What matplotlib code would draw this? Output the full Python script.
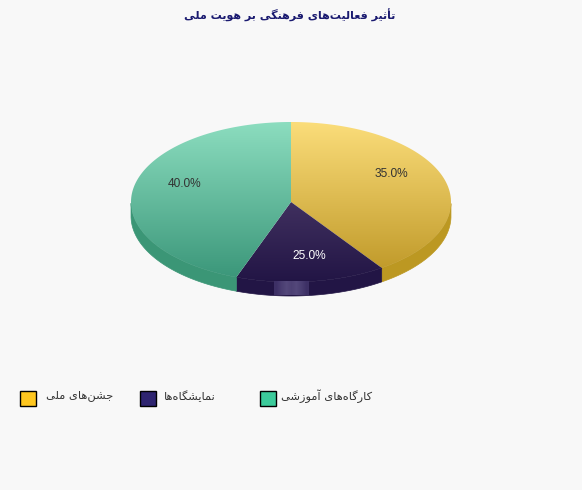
import numpy as np
import matplotlib
matplotlib.use("Agg")
import matplotlib.pyplot as plt
from matplotlib.colors import LinearSegmentedColormap
from matplotlib.patches import Polygon, Rectangle

# data
title = "تأثیر فعالیت‌های فرهنگی بر هویت ملی"
categories = ["جشن‌های ملی", "نمایشگاه‌ها", "کارگاه‌های آموزشی"]
values = [35.0, 25.0, 40.0]

# styles
legend_colors = ["#FFC71F", "#2E2470", "#3CCB9B"]
top_grads = [("#FBDD7A", "#BC9524"), ("#40305F", "#221545"), ("#8CDDBF", "#399578")]
side_colors = ["#BC9822", "#221545", "#3B9676"]
label_colors = ["#333333", "#FFFFFF", "#333333"]
label_pos = [(391, 174), (309, 256), (185, 184)]
legend_x = [(20, 113), (140, 216), (260, 372)]

cx, cy = 291, 202
rx, ry = 160, 80
depth = 14

# forms: isolated, final, initial, medial
FORMS = {
    "ا": (0xFE8D, 0xFE8E), "آ": (0xFE81, 0xFE82), "أ": (0xFE83, 0xFE84),
    "ر": (0xFEAD, 0xFEAE), "ز": (0xFEAF, 0xFEB0), "و": (0xFEED, 0xFEEE),
    "ب": (0xFE8F, 0xFE90, 0xFE91, 0xFE92), "ت": (0xFE95, 0xFE96, 0xFE97, 0xFE98),
    "ث": (0xFE99, 0xFE9A, 0xFE9B, 0xFE9C), "ج": (0xFE9D, 0xFE9E, 0xFE9F, 0xFEA0),
    "ش": (0xFEB5, 0xFEB6, 0xFEB7, 0xFEB8), "ع": (0xFEC9, 0xFECA, 0xFECB, 0xFECC),
    "ف": (0xFED1, 0xFED2, 0xFED3, 0xFED4), "ک": (0xFB8E, 0xFB8F, 0xFB90, 0xFB91),
    "گ": (0xFB92, 0xFB93, 0xFB94, 0xFB95), "ل": (0xFEDD, 0xFEDE, 0xFEDF, 0xFEE0),
    "م": (0xFEE1, 0xFEE2, 0xFEE3, 0xFEE4), "ن": (0xFEE5, 0xFEE6, 0xFEE7, 0xFEE8),
    "ه": (0xFEE9, 0xFEEA, 0xFEEB, 0xFEEC), "ی": (0xFBFC, 0xFBFD, 0xFBFE, 0xFBFF),
}


# matplotlib has no arabic shaping, so pick the joined glyphs and reverse
def shape(s):
    out = []
    for i, c in enumerate(s):
        if c not in FORMS:
            if c != "\u200c":
                out.append(c)
            continue
        f = FORMS[c]
        prev = s[i - 1] if i > 0 else ""
        nxt = s[i + 1] if i + 1 < len(s) else ""
        join_prev = prev in FORMS and len(FORMS[prev]) == 4
        join_next = nxt in FORMS and len(f) == 4
        if join_prev and join_next:
            out.append(chr(f[3]))
        elif join_next:
            out.append(chr(f[2]))
        elif join_prev:
            out.append(chr(f[1]))
        else:
            out.append(chr(f[0]))
    return "".join(out[::-1])


# point on the rim for a real screen angle, clockwise from the top
def rim(a):
    dx, dy = np.sin(a), -np.cos(a)
    t = 1 / np.sqrt((dx / rx) ** 2 + (dy / ry) ** 2)
    return cx + t * dx, cy + t * dy


fig = plt.figure(figsize=(5.82, 4.9), dpi=100, facecolor="#F8F8F8")
ax = fig.add_axes([0, 0, 1, 1])
ax.set_xlim(0, 582)
ax.set_ylim(490, 0)
ax.axis("off")

edges = np.deg2rad(np.cumsum([0] + values) * 3.6)

for i in range(len(values)):
    ang = np.linspace(edges[i], edges[i + 1], 200)
    x, y = rim(ang)

    # side wall, only the front part of the rim
    front = (ang > np.pi / 2) & (ang < 3 * np.pi / 2)
    if front.any():
        sx, sy = x[front], y[front]
        wall = np.column_stack([np.r_[sx, sx[::-1]], np.r_[sy, sy[::-1] + depth]])
        ax.add_patch(Polygon(wall, closed=True, fc=side_colors[i], ec=side_colors[i], lw=0.5, zorder=1))

for i in range(len(values)):
    ang = np.linspace(edges[i], edges[i + 1], 200)
    x, y = rim(ang)
    pts = np.column_stack([np.r_[cx, x], np.r_[cy, y]])
    cmap = LinearSegmentedColormap.from_list("s%d" % i, top_grads[i])
    y0 = cy if i == 1 else cy - ry
    grad = np.linspace(0, 1, 256).reshape(-1, 1)
    im = ax.imshow(grad, cmap=cmap, extent=(cx - rx, cx + rx, cy + ry, y0), aspect="auto", zorder=2)
    im.set_clip_path(Polygon(pts, closed=True, transform=ax.transData))
    ax.text(label_pos[i][0], label_pos[i][1], "%.1f%%" % values[i], color=label_colors[i],
            family="Liberation Sans", fontsize=8.6, ha="center", va="center", zorder=4)

# shine at the front of the pie
shine = np.array([[0.1, 0.5, 0.8, 0.6, 0.8, 0.5, 0.1]])
ax.imshow(shine, cmap=LinearSegmentedColormap.from_list("sh", ["#3A2D63", "#5A4E80"]), vmin=0, vmax=1,
          extent=(274, 309, 295, 281), aspect="auto", interpolation="bilinear", zorder=3)

ax.set_xlim(0, 582)
ax.set_ylim(490, 0)

ax.text(290, 15, shape(title), color="#1A1A70", family="DejaVu Sans", fontweight="bold",
        fontsize=8.05, ha="center", va="center")

for i, c in enumerate(categories):
    ax.add_patch(Rectangle((legend_x[i][0], 390.5), 15.5, 15, fc=legend_colors[i], ec="black", lw=1))
    ax.text(legend_x[i][1], 396, shape(c), color="#333333", family="DejaVu Sans",
            fontsize=8.2, ha="right", va="center")

fig.savefig("out.png", dpi=100, facecolor=fig.get_facecolor())
